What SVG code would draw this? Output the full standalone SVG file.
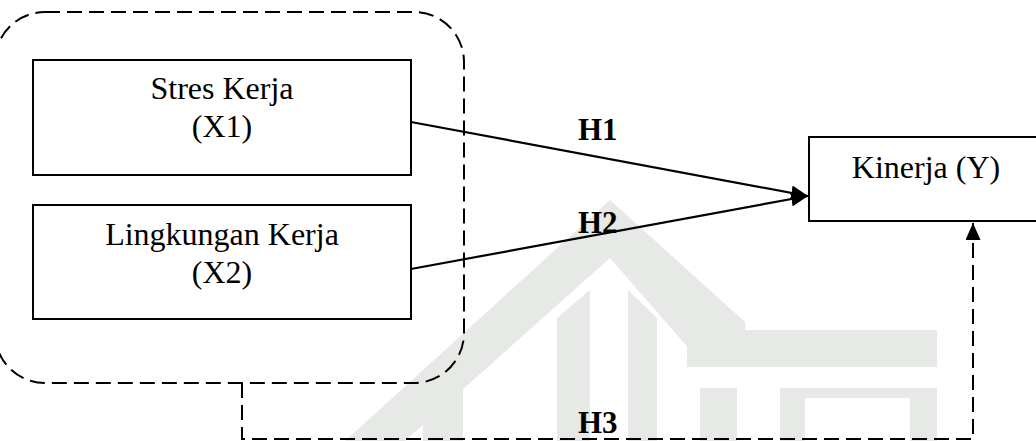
<svg xmlns="http://www.w3.org/2000/svg" width="1036" height="441" viewBox="0 0 1036 441">
<defs>
<style>
.box{fill:none;stroke:#000;stroke-width:2}
.lbl{font-family:"Liberation Serif","Times New Roman",serif;font-size:32px;fill:#000;text-anchor:middle}
.h{font-family:"Liberation Serif","Times New Roman",serif;font-size:31px;font-weight:bold;fill:#000}
.dash{fill:none;stroke:#000;stroke-width:2;stroke-dasharray:15 7}
.wm{fill:#e6e9e5}
</style>
<marker id="arr" markerUnits="userSpaceOnUse" markerWidth="17" markerHeight="15" refX="17" refY="7.5" orient="auto">
<path d="M0,0 L17,7.5 L0,15 Z" fill="#000"/>
</marker>
</defs>
<rect width="1036" height="441" fill="#fff"/>
<g id="watermark">
<polygon class="wm" points="345,441 610,200 745,322 745,367 705,367 610,258 405,441"/>
<rect class="wm" x="687" y="330" width="250" height="37"/>
<rect class="wm" x="423" y="380" width="40" height="61"/>
<polygon class="wm" points="557,318 590,290 590,441 557,441"/>
<polygon class="wm" points="628,290 657,318 657,441 628,441"/>
<rect class="wm" x="700" y="388" width="37" height="53"/>
<path class="wm" d="M780,388 H937 V441 H910 V398 H805 V441 H780 Z"/>
</g>
<g id="group-x">
<rect class="dash" x="-5" y="12" width="469" height="371" rx="50" ry="50"/>
</g>
<g id="node-x1">
<rect class="box" x="33" y="60" width="378" height="115"/>
<text class="lbl" x="222" y="99">Stres Kerja</text>
<text class="lbl" x="222" y="137">(X1)</text>
</g>
<g id="node-x2">
<rect class="box" x="33" y="205" width="378" height="114"/>
<text class="lbl" x="222" y="245">Lingkungan Kerja</text>
<text class="lbl" x="222" y="283">(X2)</text>
</g>
<g id="node-y">
<rect class="box" x="809" y="137" width="240" height="84"/>
<text class="lbl" x="926" y="178">Kinerja (Y)</text>
</g>
<g id="connectors">
<line x1="411" y1="122" x2="808" y2="196" stroke="#000" stroke-width="2.2" marker-end="url(#arr)"/>
<line x1="411" y1="269" x2="808" y2="196" stroke="#000" stroke-width="2.2" marker-end="url(#arr)"/>
<path class="dash" d="M242,383 V439 H973 V223" marker-end="url(#arr)"/>
<text class="h" x="578" y="140">H1</text>
<text class="h" x="578" y="233">H2</text>
<text class="h" x="578" y="433">H3</text>
</g>
</svg>
